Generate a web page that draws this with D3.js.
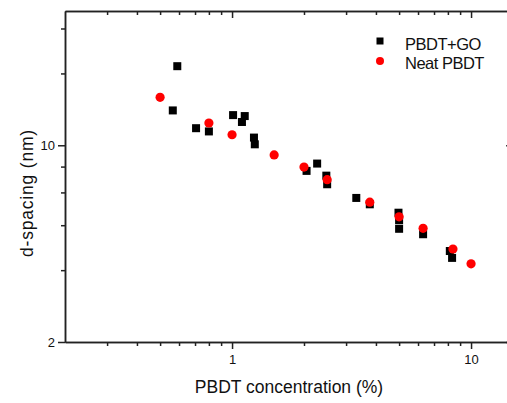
<!DOCTYPE html>
<html>
<head>
    <title>d-spacing vs PBDT concentration</title>
    <style>
        body { margin: 0; background: #fff; }
        svg { display: block; font-family: "Liberation Sans", Arial, sans-serif; }
        .axis path, .axis line { stroke: #222; stroke-width: 1.5; }
        .axis text { fill: #111; font-size: 13px; }
    </style>
</head>
<body>
    <div id="chart"></div>
    <script src="https://d3js.org/d3.v7.min.js"></script>
    <script>
        // data
        const goX = [0.59, 0.565, 0.707, 0.80, 1.01, 1.10, 1.13, 1.235, 1.245, 2.05, 2.27, 2.48, 2.50, 3.31, 3.77, 4.97, 5.0, 5.0, 6.30, 8.15, 8.33];
        const goY = [19.1, 13.3, 11.5, 11.2, 12.8, 12.1, 12.7, 10.65, 10.08, 8.11, 8.61, 7.8, 7.27, 6.5, 6.17, 5.76, 5.42, 5.05, 4.83, 4.21, 3.98];
        const neatX = [0.5, 0.8, 1.0, 1.5, 2.0, 2.5, 3.77, 5.0, 6.3, 8.4, 10];
        const neatY = [14.8, 12.0, 10.9, 9.24, 8.37, 7.55, 6.28, 5.57, 5.07, 4.28, 3.79];
        const xMajor = [1, 10];
        const xMinor = [0.3, 0.4, 0.5, 0.6, 0.7, 0.8, 0.9, 2, 3, 4, 5, 6, 7, 8, 9];
        const yMajor = [2, 10];
        const yMinor = [3.6, 5.2, 6.8, 8.4, 18, 26];
        const seriesNames = ["PBDT+GO", "Neat PBDT"];

        const W = 507, H = 403;
        const plotL = 65, plotT = 11, plotB = 342;
        const decade = 239; // px per decade on x

        const svg = d3.select("#chart").append("svg")
            .attr("width", W)
            .attr("height", H);

        // x runs a little past the right edge of the window, as in the original
        const x = d3.scaleLog().domain([0.2, 15]).range([plotL, plotL + decade * Math.log10(15 / 0.2)]);
        const plotR = x(15);
        const y = d3.scaleLog().domain([2, 30]).range([plotB, plotT]);

        function axis(gen, vals, size, fmt) {
            return gen.tickValues(vals).tickSize(size).tickSizeOuter(0).tickFormat(fmt);
        }
        const noLabel = () => "";

        // bottom axis
        svg.append("g").attr("class", "axis")
            .attr("transform", "translate(0," + plotB + ")")
            .call(axis(d3.axisBottom(x), xMinor, 4, noLabel));
        svg.append("g").attr("class", "axis")
            .attr("transform", "translate(0," + plotB + ")")
            .call(axis(d3.axisBottom(x), xMajor, 7, d3.format("d")))
            .call(g => g.selectAll("text").attr("dy", "0.95em"));

        // top axis, ticks inward
        svg.append("g").attr("class", "axis")
            .attr("transform", "translate(0," + plotT + ")")
            .call(axis(d3.axisBottom(x), xMinor, 4, noLabel));
        svg.append("g").attr("class", "axis")
            .attr("transform", "translate(0," + plotT + ")")
            .call(axis(d3.axisBottom(x), xMajor, 7, noLabel));

        // left axis
        svg.append("g").attr("class", "axis")
            .attr("transform", "translate(" + plotL + ",0)")
            .call(axis(d3.axisLeft(y), yMinor, 4, noLabel));
        svg.append("g").attr("class", "axis")
            .attr("transform", "translate(" + plotL + ",0)")
            .call(axis(d3.axisLeft(y), yMajor, 7, d3.format("d")));

        // right axis, ticks inward (mostly outside the window)
        svg.append("g").attr("class", "axis")
            .attr("transform", "translate(" + plotR + ",0)")
            .call(axis(d3.axisLeft(y), yMinor, 4, noLabel));
        svg.append("g").attr("class", "axis")
            .attr("transform", "translate(" + plotR + ",0)")
            .call(axis(d3.axisLeft(y), yMajor, 7, noLabel));

        // axis titles
        svg.append("text")
            .attr("x", 289).attr("y", 392.5)
            .attr("text-anchor", "middle")
            .attr("font-size", 17.5).attr("fill", "#111")
            .text("PBDT concentration (%)");
        svg.append("text")
            .attr("transform", "translate(33,193) rotate(-90)")
            .attr("text-anchor", "middle")
            .attr("font-size", 17.5).attr("letter-spacing", 0.8).attr("fill", "#111")
            .text("d-spacing (nm)");

        // points
        const go = d3.zip(goX, goY);
        const neat = d3.zip(neatX, neatY);
        svg.append("g").selectAll("rect").data(go).join("rect")
            .attr("x", d => x(d[0]) - 4)
            .attr("y", d => y(d[1]) - 4)
            .attr("width", 8).attr("height", 8)
            .attr("fill", "#000");
        svg.append("g").selectAll("circle").data(neat).join("circle")
            .attr("cx", d => x(d[0]))
            .attr("cy", d => y(d[1]))
            .attr("r", 4.6)
            .attr("fill", "#f00");

        // legend
        const lg = svg.append("g").attr("transform", "translate(380,41)");
        lg.append("rect").attr("x", -3.5).attr("y", -3.5).attr("width", 7).attr("height", 7).attr("fill", "#000");
        lg.append("circle").attr("cx", 0).attr("cy", 20).attr("r", 4).attr("fill", "#f00");
        lg.selectAll("text").data(seriesNames).join("text")
            .attr("x", 25).attr("y", (d, i) => 8.7 + i * 19.2)
            .attr("font-size", 16.5).attr("letter-spacing", -0.5).attr("fill", "#111")
            .text(d => d);
    </script>
</body>
</html>
